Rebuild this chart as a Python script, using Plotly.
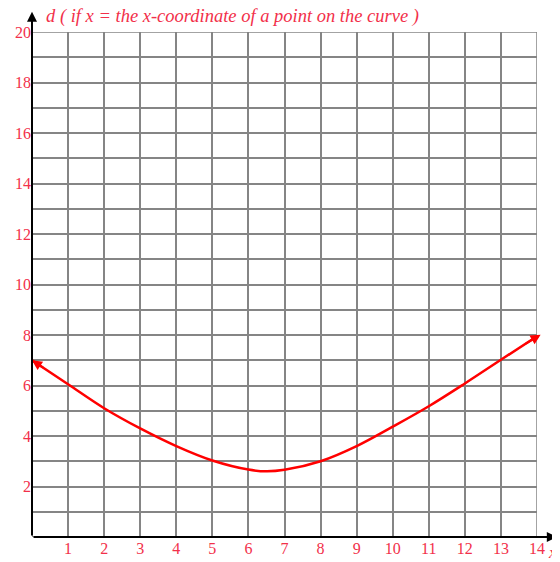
import plotly.graph_objects as go

# data
x_vals = [0, 1, 2, 3, 4, 5, 6, 6.5, 7, 8, 9, 10, 11, 12, 13, 14]
d_vals = [7.0, 6.05, 5.1, 4.3, 3.6, 3.03, 2.67, 2.6, 2.66, 3.0, 3.6, 4.37, 5.18, 6.08, 7.02, 7.95]
x_ticks = list(range(1, 15))
y_ticks = list(range(2, 21, 2))
y_title = "d ( if x = the x-coordinate of a point on the curve )"
x_title = "x"

RED = "#ff0000"
LABEL_RED = "#f2304a"
GRID = "#858585"
FONT = "Liberation Serif, Times New Roman, serif"

fig = go.Figure()
fig.add_trace(go.Scatter(
    x=x_vals, y=d_vals, mode="lines",
    line=dict(color=RED, width=2.5, shape="spline", smoothing=1.0),
    hoverinfo="skip", showlegend=False, cliponaxis=False,
))

# gray border on top / right (grid edge lines)
fig.add_shape(type="rect", xref="x", yref="y", x0=0, x1=14, y0=0, y1=20,
              line=dict(color=GRID, width=1.5), layer="below")

# arrowheads on the curve ends
fig.add_annotation(x=x_vals[0], y=d_vals[0], ax=x_vals[1] * 0.35, ay=d_vals[0] + (d_vals[1] - d_vals[0]) * 0.35,
                   xref="x", yref="y", axref="x", ayref="y", text="", showarrow=True,
                   arrowhead=2, arrowsize=1.0, arrowwidth=2, arrowcolor=RED)
fig.add_annotation(x=x_vals[-1] + 0.1, y=d_vals[-1] + 0.06, ax=x_vals[-1] - 0.35,
                   ay=d_vals[-1] - (d_vals[-1] - d_vals[-2]) * 0.35,
                   xref="x", yref="y", axref="x", ayref="y", text="", showarrow=True,
                   arrowhead=2, arrowsize=1.0, arrowwidth=2, arrowcolor=RED)

# axes with arrows
fig.add_annotation(x=0, y=20.8, ax=0, ay=0, xref="x", yref="y", axref="x", ayref="y",
                   text="", showarrow=True, arrowhead=2, arrowsize=1.0, arrowwidth=2, arrowcolor="black")
fig.add_annotation(x=14.55, y=0, ax=0, ay=0, xref="x", yref="y", axref="x", ayref="y",
                   text="", showarrow=True, arrowhead=2, arrowsize=1.0, arrowwidth=2, arrowcolor="black")

# axis titles
fig.add_annotation(x=0.025, y=1.031, xref="paper", yref="paper", xanchor="left", yanchor="middle",
                   text=y_title, showarrow=False, borderpad=0,
                   font=dict(family=FONT, size=18.5, color=LABEL_RED, style="italic"))
fig.add_annotation(x=1.03, y=-0.03, xref="paper", yref="paper", xanchor="center", yanchor="middle",
                   text=x_title, showarrow=False,
                   font=dict(family=FONT, size=17, color=LABEL_RED, style="italic"))

fig.update_xaxes(
    range=[0, 14], tickvals=x_ticks, ticktext=[str(v) for v in x_ticks],
    showgrid=True, gridcolor=GRID, gridwidth=1.5,
    minor=dict(dtick=1, tick0=0, showgrid=True, gridcolor=GRID, gridwidth=1.5),
    zeroline=False, showline=False, ticks="", automargin=False,
    tickfont=dict(family=FONT, size=16, color=LABEL_RED), fixedrange=True,
)
fig.update_yaxes(
    range=[0, 20], tickvals=y_ticks, ticktext=[str(v) for v in y_ticks],
    showgrid=True, gridcolor=GRID, gridwidth=1.5,
    minor=dict(dtick=1, tick0=0, showgrid=True, gridcolor=GRID, gridwidth=1.5),
    zeroline=False, showline=False, ticks="", automargin=False,
    tickfont=dict(family=FONT, size=16, color=LABEL_RED), fixedrange=True,
)

# page body has an 8px margin, so the figure is sized to fit inside the window
fig.update_layout(
    width=552, height=554,
    margin=dict(l=24, r=23, t=24, b=25, pad=0),
    plot_bgcolor="white", paper_bgcolor="white",
    showlegend=False,
)

fig.write_html("out.html")
